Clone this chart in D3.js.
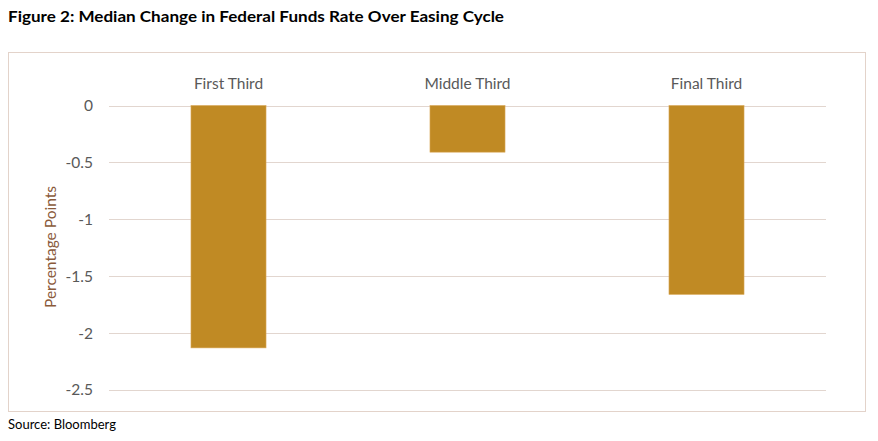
<!DOCTYPE html>
<html><head><meta charset="utf-8">
<script src="https://cdn.jsdelivr.net/npm/d3@7"></script>
<style>body{margin:0;background:#fff}svg{display:block}</style>
</head><body>
<script>
const categories = ["First Third", "Middle Third", "Final Third"];
const values = [-2.13, -0.41, -1.66];
const yTicks = [0, -0.5, -1, -1.5, -2, -2.5];
const tickLabels = ["0", "-0.5", "-1", "-1.5", "-2", "-2.5"];
const title = "Figure 2: Median Change in Federal Funds Rate Over Easing Cycle";
const yTitle = "Percentage Points";
const source = "Source: Bloomberg";

const W = 878, H = 441;
const font = "Lato, 'Open Sans', sans-serif";
const svg = d3.select("body").append("svg").attr("width", W).attr("height", H);

svg.append("text").attr("x", 8).attr("y", 22).text(title)
  .attr("font-family", font).attr("font-weight", "bold").attr("font-size", 15.5)
  .attr("fill", "#000").attr("textLength", 496).attr("lengthAdjust", "spacingAndGlyphs");

svg.append("rect").attr("x", 8.5).attr("y", 52.5).attr("width", 857).attr("height", 359)
  .attr("fill", "none").attr("stroke", "#e3d3ca").attr("stroke-width", 1);

const x = d3.scaleBand().domain(categories).range([109, 826]).paddingInner(0.686).paddingOuter(0.343);
const y = d3.scaleLinear().domain([-2.5, 0]).range([390, 105.5]);

const g = svg.append("g");
g.selectAll("line.grid").data(yTicks).join("line").attr("class", "grid")
  .attr("x1", 109).attr("x2", 826)
  .attr("y1", d => Math.round(y(d)) + 0.5).attr("y2", d => Math.round(y(d)) + 0.5)
  .attr("stroke", "#e2d6cf").attr("stroke-width", 1.2);

const yAxis = d3.axisLeft(y).tickValues(yTicks).tickFormat((d, i) => tickLabels[i]).tickSize(0).tickPadding(0);
const ya = svg.append("g").attr("transform", "translate(93,0)").call(yAxis);
ya.select(".domain").remove();
ya.selectAll("text").attr("font-family", font).attr("font-size", 15.5).attr("fill", "#595959");

g.selectAll("rect.bar").data(values).join("rect").attr("class", "bar")
  .attr("x", (d, i) => x(categories[i])).attr("width", x.bandwidth())
  .attr("y", d => y(0)).attr("height", d => y(d) - y(0))
  .attr("fill", "#c08a24").attr("stroke", "#d9a95a").attr("stroke-width", 0.6);

const xAxis = d3.axisTop(x).tickSize(0).tickPadding(0);
const xa = svg.append("g").attr("transform", "translate(0,89)").call(xAxis);
xa.select(".domain").remove();
xa.selectAll("text").attr("font-family", font).attr("font-size", 15.5).attr("fill", "#595959").attr("dy", 0);

svg.append("text").attr("transform", "translate(56,247) rotate(-90)").attr("text-anchor", "middle")
  .text(yTitle).attr("font-family", font).attr("font-size", 15.5).attr("fill", "#8a5a3a");

svg.append("text").attr("x", 8).attr("y", 429).text(source)
  .attr("font-family", font).attr("font-size", 13).attr("fill", "#000");
</script>
</body></html>
